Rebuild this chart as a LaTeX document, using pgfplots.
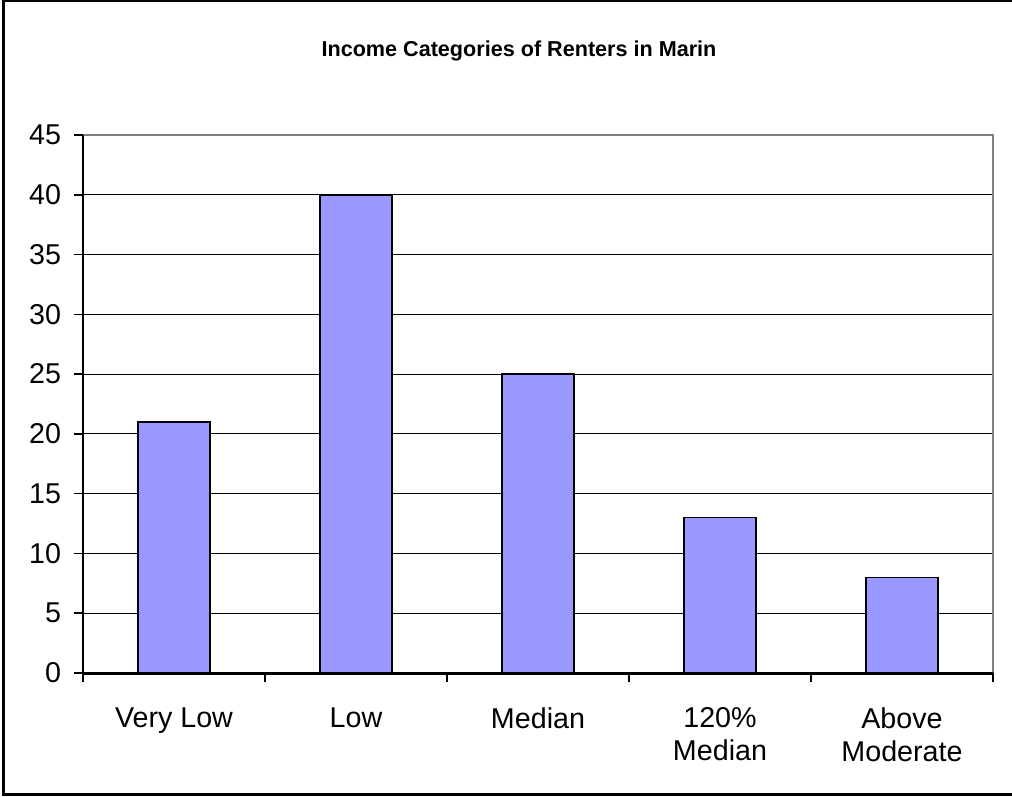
\documentclass[border=0pt]{standalone}
\usepackage{fontspec}
\setmainfont{Liberation Sans}
\usepackage{pgfplots}
\pgfplotsset{compat=1.18}
\definecolor{barblue}{HTML}{9999FF}
\definecolor{plotframe}{HTML}{808080}
\begin{document}
\begin{tikzpicture}
\useasboundingbox (0,0) rectangle (759pt,597pt);
% chart frame
\draw[line width=2.25pt] (2.25pt,1.5pt) rectangle (800pt,596.6pt);
% title
\node[font=\fontsize{16.2}{19}\selectfont\bfseries] at (389.25pt,558.75pt)
  {Income Categories of Renters in Marin};
\begin{axis}[
  at={(62.25pt,92.25pt)}, anchor=south west,
  scale only axis, width=682.5pt, height=403.5pt,
  clip=false,
  ybar, bar width=54pt,
  xmin=0.5, xmax=5.5, ymin=0, ymax=45,
  xtick={0.5,1.5,...,5.5},
  x tick label as interval,
  xticklabels={Very Low, Low, Median, 120\%\\Median, Above\\Moderate},
  ytick={0,5,...,45},
  ymajorgrids, major grid style={black, line width=0.75pt},
  tick pos=left, tick align=outside, major tick length=7pt,
  tick style={black, line width=1.1pt},
  axis line style={draw=none},
  /pgf/number format/assume math mode=true,
  tick label style={font=\fontsize{21.5}{24.75}\selectfont},
  x tick label style={align=center, yshift=-15.5pt},
  y tick label style={xshift=-6pt},
]
\addplot[fill=barblue, draw=black, line width=1.1pt]
  coordinates {(1,21) (2,40) (3,25) (4,13) (5,8)};
% plot area border: grey on top and right, axes black
\draw[plotframe, line width=1.5pt] (rel axis cs:0,1) -- (rel axis cs:1,1) -- (rel axis cs:1,0);
\draw[black, line width=1.5pt] (rel axis cs:0,1) -- (rel axis cs:0,0);
\draw[black, line width=2.25pt] (rel axis cs:0,0) -- (rel axis cs:1,0);
\end{axis}
\end{tikzpicture}
\end{document}
